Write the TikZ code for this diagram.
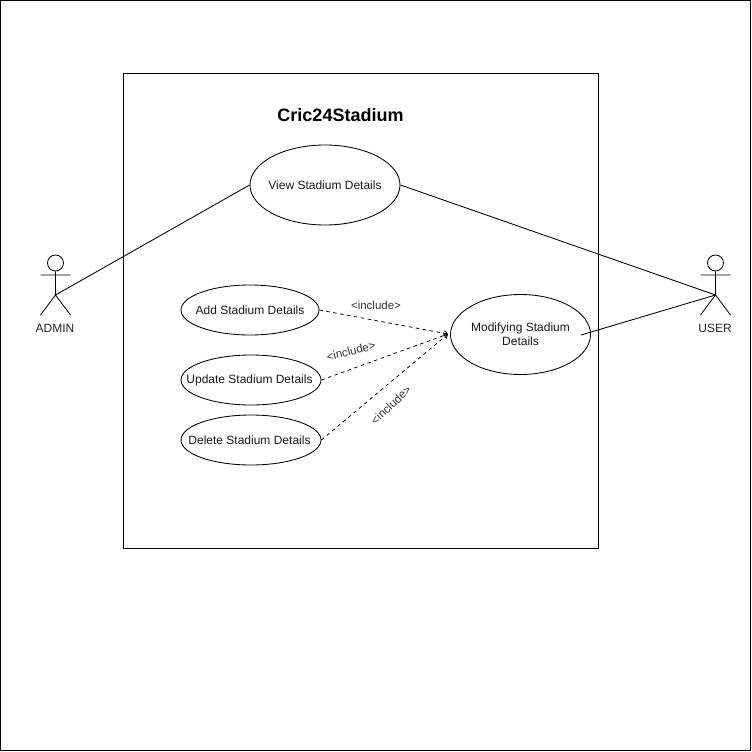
\documentclass[tikz,border=0pt]{standalone}
\usepackage{fontspec}
\setmainfont{Liberation Sans}
\usetikzlibrary{arrows.meta,shapes.geometric}
\tikzset{
  line/.style={draw=black,line width=0.85pt},
  usecase/.style={ellipse,draw=black,line width=0.85pt,inner sep=0pt,fill=white},
  uctext/.style={align=center,font=\fontsize{12}{14}\selectfont,text=black!90,inner sep=0pt},
  lbl/.style={font=\fontsize{12}{14}\selectfont,text=black!85,inner sep=0pt},
  inc/.style={font=\fontsize{11.5}{13}\selectfont,text=black!80,inner sep=0pt},
  incl/.style={draw=black,line width=0.75pt,dash pattern=on 3.5pt off 3.5pt,-{Straight Barb[length=3.5pt,width=5pt]}},
}
\begin{document}
\begin{tikzpicture}[x=1pt,y=-1pt]
\useasboundingbox (0,0) rectangle (752,752);
\fill[white] (0,0) rectangle (752,752);
\draw[line] (0.5,0.5) rectangle (750.5,750.5);
\draw[line] (123,73) rectangle (598,548);
\node[font=\bfseries\fontsize{18}{21}\selectfont,inner sep=0pt] (title) at (340.5,115.5) {Cric24Stadium};

\node[usecase,minimum width=150pt,minimum height=80pt] (view) at (325,185) {};
\node[uctext] (viewt) at (view.center) {View Stadium Details};
\node[usecase,minimum width=138pt,minimum height=50pt] (add) at (250,310) {};
\node[uctext] (addt) at (add.center) {Add Stadium Details};
\node[usecase,minimum width=140pt,minimum height=50pt] (upd) at (251,380) {};
\node[uctext] (updt) at (249.5,380) {Update Stadium Details};
\node[usecase,minimum width=140pt,minimum height=50pt] (del) at (251,440) {};
\node[uctext] (delt) at (249.5,440) {Delete Stadium Details};
\node[usecase,minimum width=140pt,minimum height=80pt] (mod) at (520.5,334.5) {};
\node[uctext] (modt) at (mod.center) {Modifying Stadium\\Details};

% ADMIN actor
\node[circle,draw=black,line width=0.85pt,minimum size=16pt,inner sep=0pt] (ahead) at (55.5,263) {};
\coordinate (ahip) at (55.5,295);
\coordinate (aarmL) at (40.5,275);
\coordinate (aarmR) at (70.5,275);
\coordinate (alegL) at (40.5,315);
\coordinate (alegR) at (70.5,315);
\draw[line] (ahead.south) -- (ahip) (aarmL) -- (aarmR) (alegL) -- (ahip) -- (alegR);
\node[lbl] (admin) at (55,328) {ADMIN};

% USER actor
\node[circle,draw=black,line width=0.85pt,minimum size=16pt,inner sep=0pt] (uhead) at (715.5,263) {};
\coordinate (uhip) at (715.5,295);
\coordinate (uarmL) at (700.5,275);
\coordinate (uarmR) at (730.5,275);
\coordinate (ulegL) at (700.5,315);
\coordinate (ulegR) at (730.5,315);
\draw[line] (uhead.south) -- (uhip) (uarmL) -- (uarmR) (ulegL) -- (uhip) -- (ulegR);
\node[lbl] (user) at (715,328) {USER};

% associations
\coordinate (modin) at (581,335);
\draw[line] (ahip) -- (view.west);
\draw[line] (uhip) -- (view.east);
\draw[line] (uhip) -- (modin);

% includes
\coordinate (target) at (448,334);
\draw[incl] (add.east) -- (target);
\draw[incl] (upd.east) -- (target);
\draw[incl] (del.east) -- (target);
\node[inc] (i1) at (376,305) {<include>};
\node[inc,rotate=14] (i2) at (351,351) {<include>};
\node[inc,rotate=43] (i3) at (391,405) {<include>};
\end{tikzpicture}
\end{document}
